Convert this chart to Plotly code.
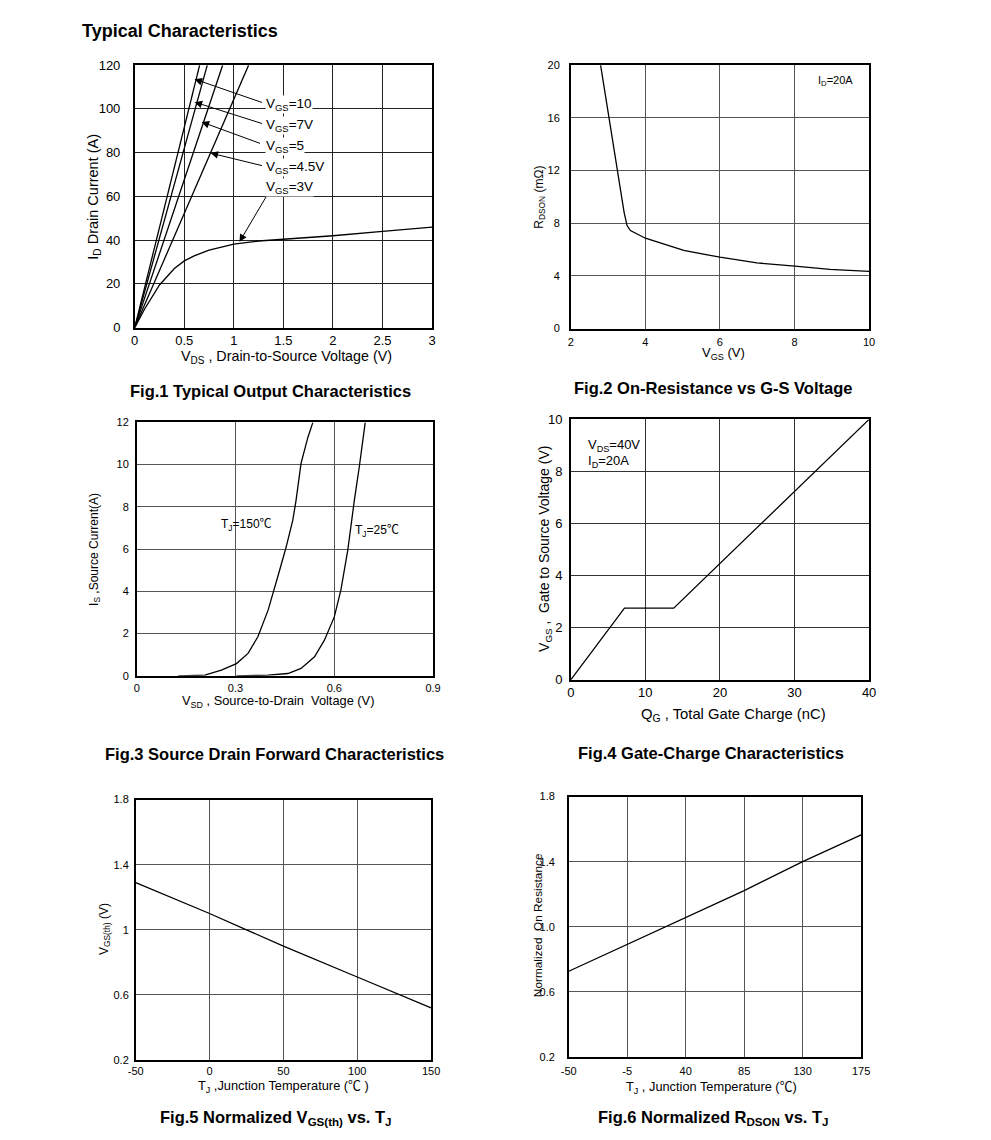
import plotly.graph_objects as go

W, H = 991, 1140
FONT = "Liberation Sans, Arial, sans-serif"
# compensation of the photographing step (observed offset / scale)
OX, SX = 6.0, 0.985
OY, SY = 5.7, 0.989
DEG = "<span style=\"font-family:'Noto Sans CJK SC'\">℃</span>"

# ---------------- Data ----------------
# Fig.1 Output characteristics
f1_vds_10 = [0, 0.2, 0.4, 0.655]
f1_id_10 = [0, 36.6, 73.3, 120]
f1_vds_7 = [0, 0.25, 0.5, 0.732]
f1_id_7 = [0, 41.0, 82.0, 120]
f1_vds_5 = [0, 0.3, 0.6, 0.887]
f1_id_5 = [0, 40.6, 81.2, 120]
f1_vds_45 = [0, 0.4, 0.8, 1.149]
f1_id_45 = [0, 41.8, 83.6, 120]
f1_vds_3 = [0, 0.1, 0.25, 0.4, 0.5, 0.6, 0.75, 1.0, 1.25, 1.5, 2.0, 2.5, 3.0]
f1_id_3 = [0, 8.5, 19.5, 27.0, 30.5, 32.8, 35.4, 38.2, 39.6, 40.4, 42.0, 44.0, 45.9]

# Fig.2 RDSON vs VGS
f2_vgs = [2.80, 3.02, 3.25, 3.43, 3.51, 3.60, 4.0, 4.49, 5.03, 6.0, 6.99, 8.01, 8.95, 10.0]
f2_rds = [20.0, 16.0, 11.8, 8.83, 7.82, 7.44, 6.86, 6.43, 5.93, 5.42, 4.99, 4.74, 4.49, 4.34]

# Fig.3 Source-drain forward characteristics
f3_vsd_150 = [0.126, 0.207, 0.257, 0.303, 0.338, 0.368, 0.399, 0.417, 0.434, 0.454, 0.474, 0.484, 0.499, 0.52, 0.535]
f3_is_150 = [0.0, 0.03, 0.27, 0.58, 1.06, 1.85, 3.11, 4.14, 5.0, 6.11, 7.37, 8.32, 10.06, 11.3, 12.0]
f3_vsd_25 = [0.303, 0.399, 0.459, 0.499, 0.54, 0.57, 0.60, 0.62, 0.641, 0.651, 0.661, 0.676, 0.686, 0.694]
f3_is_25 = [0.0, 0.03, 0.11, 0.35, 0.9, 1.69, 2.79, 4.06, 5.95, 7.22, 8.32, 9.9, 11.0, 12.0]

# Fig.4 Gate charge
f4_qg = [0, 7.2, 13.8, 40]
f4_vgs = [0, 2.75, 2.75, 10]

# Fig.5 VGS(th) vs TJ
f5_tj = [-50, 0, 25, 50, 100, 150]
f5_vth = [1.29, 1.10, 1.0, 0.90, 0.71, 0.52]

# Fig.6 Normalized RDSON vs TJ
f6_tj = [-50, -5, 40, 85, 130, 175]
f6_r = [0.727, 0.891, 1.058, 1.222, 1.40, 1.565]

# Tick labels
f1_xt = [0, 0.5, 1, 1.5, 2, 2.5, 3]
f1_xl = ["0", "0.5", "1", "1.5", "2", "2.5", "3"]
f1_yt = [0, 20, 40, 60, 80, 100, 120]
f2_xt = [2, 4, 6, 8, 10]
f2_yt = [0, 4, 8, 12, 16, 20]
f3_xt = [0, 0.3, 0.6, 0.9]
f3_xl = ["0", "0.3", "0.6", "0.9"]
f3_yt = [0, 2, 4, 6, 8, 10, 12]
f4_xt = [0, 10, 20, 30, 40]
f4_yt = [0, 2, 4, 6, 8, 10]
f5_xt = [-50, 0, 50, 100, 150]
f5_yt = [0.2, 0.6, 1.0, 1.4, 1.8]
f5_yl = ["0.2", "0.6", "1", "1.4", "1.8"]
f6_xt = [-50, -5, 40, 85, 130, 175]
f6_yt = [0.2, 0.6, 1.0, 1.4, 1.8]
f6_yl = ["0.2", "0.6", "1.0", "1.4", "1.8"]

# ---------------- Figure ----------------
fig = go.Figure()
LINE = dict(color="black", width=1.3)

def px_x(p):
    return ((p - OX) / SX) / W

def px_y(p):
    return 1 - ((p - OY) / SY) / H

def add_axes(i, box, xr, xt, xl, yr, yt, yl, tfont, xstand, ystand, grid="#555555", gw=1):
    x0, y0, x1, y1 = box
    sfx = "" if i == 1 else str(i)
    common = dict(showgrid=True, gridcolor=grid, gridwidth=gw, zeroline=False,
                  showline=True, linecolor="black", linewidth=1.5, mirror=True,
                  ticks="", tickfont=dict(family=FONT, size=tfont, color="black"),
                  fixedrange=True)
    fig.layout["xaxis" + sfx] = dict(domain=[px_x(x0), px_x(x1)], range=xr, anchor="y" + sfx,
                                     tickmode="array", tickvals=xt, ticktext=xl,
                                     ticklabelstandoff=xstand, **common)
    fig.layout["yaxis" + sfx] = dict(domain=[px_y(y1), px_y(y0)], range=yr, anchor="x" + sfx,
                                     tickmode="array", tickvals=yt, ticktext=yl,
                                     ticklabelstandoff=ystand, **common)

add_axes(1, (133, 64, 431, 327), [0, 3], f1_xt, f1_xl, [0, 120], f1_yt, [str(v) for v in f1_yt], 13, 0, 10, grid="#222222", gw=1.2)
add_axes(2, (570, 64, 869, 328), [2, 10], f2_xt, [str(v) for v in f2_xt], [0, 20], f2_yt, [str(v) for v in f2_yt], 11, 2, 7)
add_axes(3, (135, 422, 432, 676), [0, 0.9], f3_xt, f3_xl, [0, 12], f3_yt, [str(v) for v in f3_yt], 11, 1, 4)
add_axes(4, (570, 419, 869, 680), [0, 40], f4_xt, [str(v) for v in f4_xt], [0, 10], f4_yt, [str(v) for v in f4_yt], 13, 0, 4, grid="#333333")
add_axes(5, (134, 800, 430, 1061), [-50, 150], f5_xt, [str(v) for v in f5_xt], [0.2, 1.8], f5_yt, f5_yl, 11, 0, 3)
add_axes(6, (568, 797, 861, 1058), [-50, 175], f6_xt, [str(v) for v in f6_xt], [0.2, 1.8], f6_yt, f6_yl, 11, 3, 10)

def line(x, y, i):
    sfx = "" if i == 1 else str(i)
    fig.add_trace(go.Scatter(x=x, y=y, mode="lines", line=LINE, xaxis="x" + sfx, yaxis="y" + sfx,
                             showlegend=False, hoverinfo="skip"))

line(f1_vds_10, f1_id_10, 1)
line(f1_vds_7, f1_id_7, 1)
line(f1_vds_5, f1_id_5, 1)
line(f1_vds_45, f1_id_45, 1)
line(f1_vds_3, f1_id_3, 1)
line(f2_vgs, f2_rds, 2)
line(f3_vsd_150, f3_is_150, 3)
line(f3_vsd_25, f3_is_25, 3)
line(f4_qg, f4_vgs, 4)
line(f5_tj, f5_vth, 5)
line(f6_tj, f6_r, 6)

ann = []

def text_px(t, x, y, size, angle=0, xanchor="center", bold=False, bg=None):
    d = dict(text=("<b>%s</b>" % t) if bold else t, x=px_x(x), y=px_y(y), xref="paper", yref="paper",
             showarrow=False, xanchor=xanchor, yanchor="middle", textangle=angle,
             font=dict(family=FONT, size=size, color="black"))
    if bg:
        d["bgcolor"] = bg
    ann.append(d)

# Page title and figure captions
text_px("Typical Characteristics", 78, 30, 18, xanchor="left", bold=True)
text_px("Fig.1 Typical Output Characteristics", 269, 391, 16.5, bold=True)
text_px("Fig.2 On-Resistance vs G-S Voltage", 713, 388, 16.5, bold=True)
text_px("Fig.3 Source Drain Forward Characteristics", 273, 754, 16.5, bold=True)
text_px("Fig.4 Gate-Charge Characteristics", 711, 753, 16.5, bold=True)
text_px("Fig.5 Normalized V<sub>GS(th)</sub> vs. T<sub>J</sub>", 275, 1119, 16.5, bold=True)
text_px("Fig.6 Normalized R<sub>DSON</sub> vs. T<sub>J</sub>", 713, 1119, 16.5, bold=True)

# Axis titles
text_px("I<sub>D</sub> Drain Current (A)", 92, 196, 14.5, angle=-90)
text_px("V<sub>DS</sub> , Drain-to-Source Voltage (V)", 285, 356, 14.3)
text_px("R<sub>DSON</sub> (mΩ)", 539, 196, 12, angle=-90)
text_px("V<sub>GS</sub> (V)", 723, 353, 13)
text_px("I<sub>S</sub> ,Source Current(A)", 93, 549, 12, angle=-90)
text_px("V<sub>SD</sub> , Source-to-Drain  Voltage (V)", 277, 702, 12.8)
text_px("V<sub>GS</sub> ,  Gate to Source Voltage (V)", 544, 549, 14, angle=-90)
text_px("Q<sub>G</sub> , Total Gate Charge (nC)", 733, 715, 14.8)
text_px("V<sub>GS(th)</sub> (V)", 103, 930, 12, angle=-90)
text_px("T<sub>J</sub> ,Junction Temperature (" + DEG + " )", 282, 1086, 12.8)
text_px("Normalized  On Resistance", 537, 926, 11.8, angle=-90)
text_px("T<sub>J</sub> , Junction Temperature (" + DEG + ")", 711, 1087, 12.8)

# In-plot labels
text_px("I<sub>D</sub>=20A", 835, 80, 11)
text_px("V<sub>DS</sub>=40V", 585, 445, 13, xanchor="left")
text_px("I<sub>D</sub>=20A", 585, 461, 13, xanchor="left")
text_px("T<sub>J</sub>=150" + DEG, 245, 523, 12)
text_px("T<sub>J</sub>=25" + DEG, 376, 529, 12)

# Fig.1 curve labels with arrows
f1_labels = ["V<sub>GS</sub>=10", "V<sub>GS</sub>=7V", "V<sub>GS</sub>=5", "V<sub>GS</sub>=4.5V", "V<sub>GS</sub>=3V"]
f1_label_y = [102.2, 92.2, 82.6, 73.0, 63.9]
f1_tail = [(1.299, 102.7), (1.299, 93.1), (1.279, 84.0), (1.299, 73.9), (1.349, 61.6)]
f1_head = [(0.604, 113.6), (0.604, 103.1), (0.675, 94.0), (0.765, 79.8), (1.057, 39.2)]
for (tx, ty), (hx, hy) in zip(f1_tail, f1_head):
    ann.append(dict(text="", x=hx, y=hy, ax=tx, ay=ty, xref="x", yref="y", axref="x", ayref="y",
                    showarrow=True, arrowhead=2, arrowsize=1.5, arrowwidth=1, arrowcolor="black"))
for t, y in zip(f1_labels, f1_label_y):
    ann.append(dict(text=t, x=1.31, y=y, xref="x", yref="y", showarrow=False, xanchor="left",
                    yanchor="middle", bgcolor="white", borderpad=0,
                    font=dict(family=FONT, size=13.5, color="black")))

fig.update_layout(width=W, height=H, autosize=False, margin=dict(l=0, r=0, t=0, b=0),
                  paper_bgcolor="white", plot_bgcolor="white", showlegend=False,
                  annotations=ann, font=dict(family=FONT, color="black"))

fig.write_html("out.html", config={"displayModeBar": False},
               post_script="document.body.style.margin='0';document.body.style.overflow='hidden';")
